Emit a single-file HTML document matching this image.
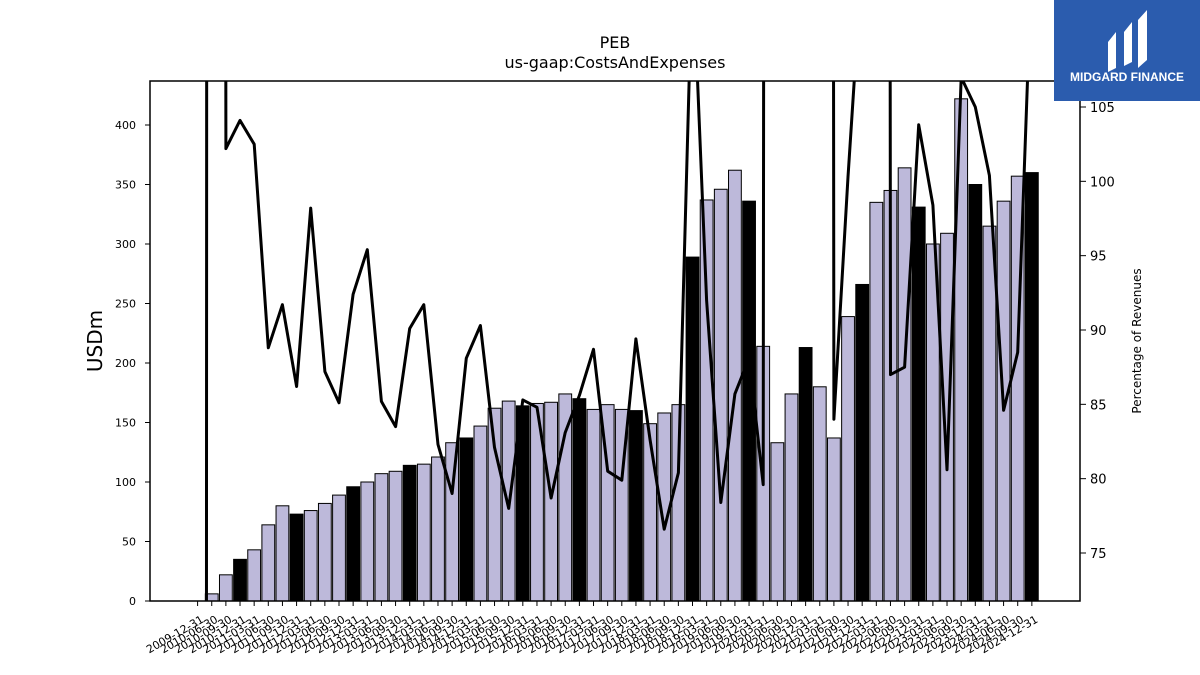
<!DOCTYPE html>
<html><head><meta charset="utf-8"><style>
html,body{margin:0;padding:0;background:#fff;width:1200px;height:675px;overflow:hidden;}
svg{display:block;font-family:"DejaVu Sans","Liberation Sans",sans-serif;}
</style></head><body>
<svg id="chart" width="1200" height="675" viewBox="0 0 1200 675">
<defs><clipPath id="plotclip"><rect x="150" y="81" width="930" height="520"/></clipPath></defs>
<text x="615" y="48" text-anchor="middle" font-size="16">PEB</text>
<text x="615" y="68" text-anchor="middle" font-size="16">us-gaap:CostsAndExpenses</text>
<g id="bars"></g>
<g id="line" clip-path="url(#plotclip)"></g>
<rect x="150" y="81" width="930" height="520" fill="none" stroke="#000" stroke-width="1.5"/>
<g id="yl"></g>
<g id="yr"></g>
<g id="xl"></g>
<text transform="translate(102,341) rotate(-90)" text-anchor="middle" font-size="20">USDm</text>
<text transform="translate(1141,341) rotate(-90)" text-anchor="middle" font-size="12">Percentage of Revenues</text>
<g>
<rect x="1054" y="0" width="146" height="101" fill="#2b5cae"/>
<path d="M1108 42 L1116 32 L1116 68 L1108 72 Z M1124 32 L1132 22 L1132 62 L1124 66 Z M1138 20 L1147 10 L1147 60 L1138 68 Z" fill="#fff"/>
<text x="1127" y="81" text-anchor="middle" font-size="12" font-weight="bold" fill="#fff" font-family="Liberation Sans,sans-serif">MIDGARD FINANCE</text>
</g>
</svg>
<script>
const dates=["2009-12-31","2010-06-30","2010-09-30","2010-12-31"];
for(let y=2011;y<=2024;y++){dates.push(y+"-03-31",y+"-06-30",y+"-09-30",y+"-12-31");}
const costs=[0,6,22,35,43,64,80,73,76,82,89,96,100,107,109,114,115,121,133,137,147,162,168,164,166,167,174,170,161,165,161,160,149,158,165,289,337,346,362,336,214,133,174,213,180,137,239,266,335,345,364,331,300,309,422,350,315,336,357,360];
const pct=[-1500,1000,102.2,104.1,102.5,88.8,91.7,86.2,98.2,87.2,85.1,92.4,95.4,85.2,83.5,90.1,91.7,82.3,79.0,88.1,90.3,82.1,78.0,85.3,84.8,78.7,83.1,85.6,88.7,80.5,79.9,89.4,82.6,76.6,80.4,115,92.0,78.4,85.7,88.1,79.6,1000,1000,1000,1000,84.0,100.3,115,1000,87.0,87.5,103.8,98.4,80.6,107,105.0,100.4,84.6,88.5,115];
const leftTicks=[0,50,100,150,200,250,300,350,400];
const rightTicks=[75,80,85,90,95,100,105];
const NS="http://www.w3.org/2000/svg";
const X=i=>197.6+i*14.14;
const YL=v=>601-v*1.19;
const YR=v=>553-(v-75)*14.867;
function mk(t,a,p){const e=document.createElementNS(NS,t);for(const k in a)e.setAttribute(k,a[k]);p.appendChild(e);return e;}
const bars=document.getElementById('bars');
costs.forEach((v,i)=>{
 const q4=dates[i].endsWith("12-31");
 const r=mk('rect',{x:X(i)-6.4,y:YL(v),width:12.8,height:v*1.19,fill:q4?'#000':'#bdb9da',stroke:'#000','stroke-width':1},bars);
 
 
});
const pts=pct.map((v,i)=>X(i).toFixed(1)+','+YR(v).toFixed(1)).join(' ');
const pl=mk('polyline',{points:pts,fill:'none',stroke:'#000','stroke-width':3,'stroke-linejoin':'round'},document.getElementById('line'));


const yl=document.getElementById('yl');
leftTicks.forEach(v=>{
 const l=mk('line',{x1:145,x2:150,y1:YL(v),y2:YL(v),stroke:'#000'},yl);
 
 
 const t=mk('text',{x:136,y:YL(v)+4,'text-anchor':'end','font-size':11},yl);
 
 
 t.textContent=v;
});
const yr=document.getElementById('yr');
rightTicks.forEach(v=>{
 const l=mk('line',{x1:1080,x2:1086,y1:YR(v),y2:YR(v),stroke:'#000'},yr);
 
 
 const t=mk('text',{x:1090,y:YR(v)+5,'font-size':13},yr);
 
 
 t.textContent=v;
});
const xl=document.getElementById('xl');
dates.forEach((d,i)=>{
 const x=X(i);
 const l=mk('line',{x1:x,x2:x,y1:601,y2:606,stroke:'#000'},xl);
 
 
 const t=mk('text',{transform:`translate(${x+3},${615}) rotate(-30)`,'text-anchor':'end','font-size':11,dy:'0.7em'},xl);
 
 
 t.textContent=d;
});
</script>
</body></html>
